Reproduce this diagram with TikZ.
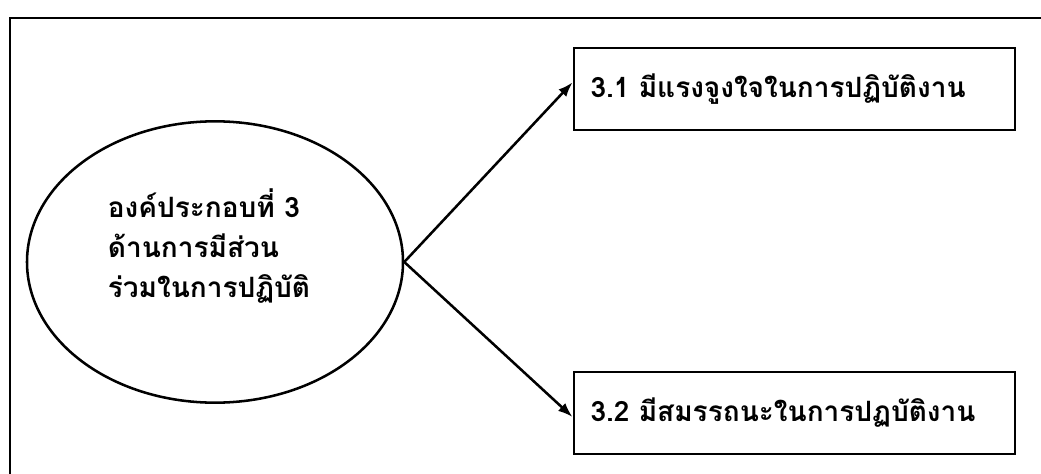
\documentclass[tikz,border=0pt]{standalone}
\usepackage{fontspec}
\newfontfamily\thaifont[Script=Thai]{Loma}
\usetikzlibrary{arrows,arrows.meta,shapes.geometric}

\begin{document}
\begin{tikzpicture}[x=0.75pt,y=-0.75pt,line width=1.9pt,
  every node/.style={font=\thaifont\bfseries\fontsize{21}{30}\selectfont},
  subbox/.style={draw, line width=2.2pt, minimum width=330.75pt, minimum height=61.5pt, text width=306pt, align=left}]
\useasboundingbox (0,0) rectangle (1041,474);
\draw[line width=1.8pt] (10,18) rectangle (1060,490);

\draw (215,262) node (comp) [ellipse, draw, inner sep=0pt, minimum width=282pt, minimum height=211pt] {};
\draw (209,246) node (comptext) [align=left] {องค์ประกอบที่ 3\\ด้านการมีส่วน\\ร่วมในการปฏิบัติ};

\draw (794.5,89)  node (sub1) [subbox] {3.1 มีแรงจูงใจในการปฏิบัติงาน};
\draw (794.5,413) node (sub2) [subbox] {3.2 มีสมรรถนะในการปฏบัติงาน};

\draw[-{Latex[length=11pt,width=8pt]}] (comp.east) -- ([yshift=5pt]sub1.west);
\draw[-{Latex[length=11pt,width=8pt]}] (comp.east) -- ([yshift=-3pt]sub2.west);
\end{tikzpicture}
\end{document}
